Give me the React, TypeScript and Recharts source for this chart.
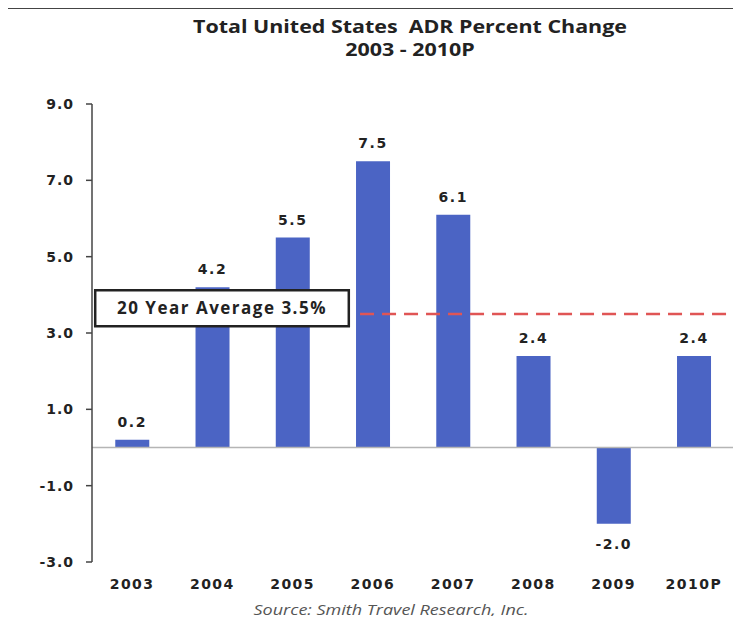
import React from "react";
import {
    BarChart,
    Bar,
    XAxis,
    YAxis,
    ReferenceLine,
    ReferenceArea,
    LabelList
} from "recharts";

const YEARS = ["2003", "2004", "2005", "2006", "2007", "2008", "2009", "2010P"];
const ADR_CHANGE = [0.2, 4.2, 5.5, 7.5, 6.1, 2.4, -2.0, 2.4];
const Y_TICKS = [9, 7, 5, 3, 1, -1, -3];
const AVG_20_YEAR = 3.5;

const BAR_COLOR = "#4b64c4";
const LABEL_FONT = "'DejaVu Sans', Verdana, sans-serif";

// slot = centre of each category on a 0..8 numeric scale (used for the box and dashed line)
const chartData = YEARS.map((year, i) => ({ year, value: ADR_CHANGE[i], slot: i + 0.5 }));

// value labels: above positive bars, below negative ones
const ValueLabel = (props: any) => {
    const { x, y, width, height, value } = props;
    const top = Math.min(y, y + height);
    const bottom = Math.max(y, y + height);
    const cx = x + width / 2;
    const ty = value >= 0 ? top - 13 : bottom + 25;
    return (
        <text
            x={cx}
            y={ty}
            textAnchor="middle"
            fontFamily={LABEL_FONT}
            fontWeight="bold"
            fontSize={14}
            letterSpacing={1.5}
            fill="#222"
        >
            {Number(value).toFixed(1)}
        </text>
    );
};

const tickStyle = {
    fontFamily: LABEL_FONT,
    fontWeight: "bold",
    fontSize: 14,
    letterSpacing: 1.5,
    fill: "#222"
};

export default function App() {
    return (
        <div style={{ position: "relative", width: 741, height: 624, margin: -8, overflow: "hidden", background: "#fff" }}>
            <div style={{ position: "absolute", left: 5, top: 7, width: 800, height: 700, border: "2px solid #444" }} />
            <div
                style={{
                    position: "absolute",
                    left: 0,
                    width: 820,
                    top: 15,
                    textAlign: "center",
                    fontFamily: "'Open Sans', sans-serif",
                    fontWeight: 700,
                    fontSize: 18,
                    lineHeight: "23px",
                    color: "#222",
                    transform: "scaleX(1.19)",
                    transformOrigin: "410px 0"
                }}
            >
                Total United States&nbsp; ADR Percent Change
                <br />
                2003 - 2010P
            </div>
            <div style={{ position: "absolute", left: 0, top: 0 }}>
                <BarChart
                    width={741}
                    height={624}
                    data={chartData}
                    margin={{ top: 104, right: 7, bottom: 32, left: 32 }}
                    barCategoryGap="29%"
                >
                    <XAxis
                        xAxisId="cat"
                        dataKey="year"
                        axisLine={false}
                        tickLine={false}
                        tickSize={0}
                        tickMargin={17}
                        height={30}
                        interval={0}
                        tick={tickStyle}
                    />
                    <XAxis xAxisId="pos" dataKey="slot" type="number" domain={[0, 8]} hide allowDataOverflow />
                    <YAxis
                        domain={[-3, 9]}
                        ticks={Y_TICKS}
                        width={60}
                        tickSize={6}
                        tickMargin={12}
                        tickFormatter={(v: number) => v.toFixed(1)}
                        axisLine={{ stroke: "#444", strokeWidth: 1.5 }}
                        tickLine={{ stroke: "#444", strokeWidth: 1.5 }}
                        tick={{ ...tickStyle, letterSpacing: 1 }}
                        allowDataOverflow
                    />
                    <ReferenceLine xAxisId="cat" y={0} stroke="#b5b5b5" strokeWidth={1.5} />
                    <Bar xAxisId="cat" dataKey="value" fill={BAR_COLOR} isAnimationActive={false}>
                        <LabelList dataKey="value" content={ValueLabel} />
                    </Bar>
                    <ReferenceLine
                        xAxisId="pos"
                        segment={[{ x: 3.34, y: AVG_20_YEAR }, { x: 8, y: AVG_20_YEAR }]}
                        stroke="#e05555"
                        strokeWidth={2.5}
                        strokeDasharray="14 8"
                        ifOverflow="visible"
                        zIndex={1400}
                    />
                    <ReferenceArea
                        xAxisId="pos"
                        x1={0.04}
                        x2={3.2}
                        y1={3.18}
                        y2={4.12}
                        fill="#fff"
                        fillOpacity={1}
                        stroke="#222"
                        strokeWidth={2.5}
                        ifOverflow="visible"
                        zIndex={1500}
                        label={{
                            value: "20 Year Average 3.5%",
                            position: "center",
                            fontFamily: "'Open Sans', sans-serif",
                            fontWeight: 700,
                            fontSize: 17,
                            letterSpacing: 1.5,
                            fill: "#222"
                        }}
                    />
                </BarChart>
            </div>
            <div
                style={{
                    position: "absolute",
                    left: 0,
                    width: 782,
                    top: 599,
                    textAlign: "center",
                    fontFamily: "'Open Sans', sans-serif",
                    fontStyle: "italic",
                    fontSize: 15,
                    color: "#555",
                    transform: "scaleX(1.2)",
                    transformOrigin: "391px 0"
                }}
            >
                Source: Smith Travel Research, Inc.
            </div>
        </div>
    );
}
